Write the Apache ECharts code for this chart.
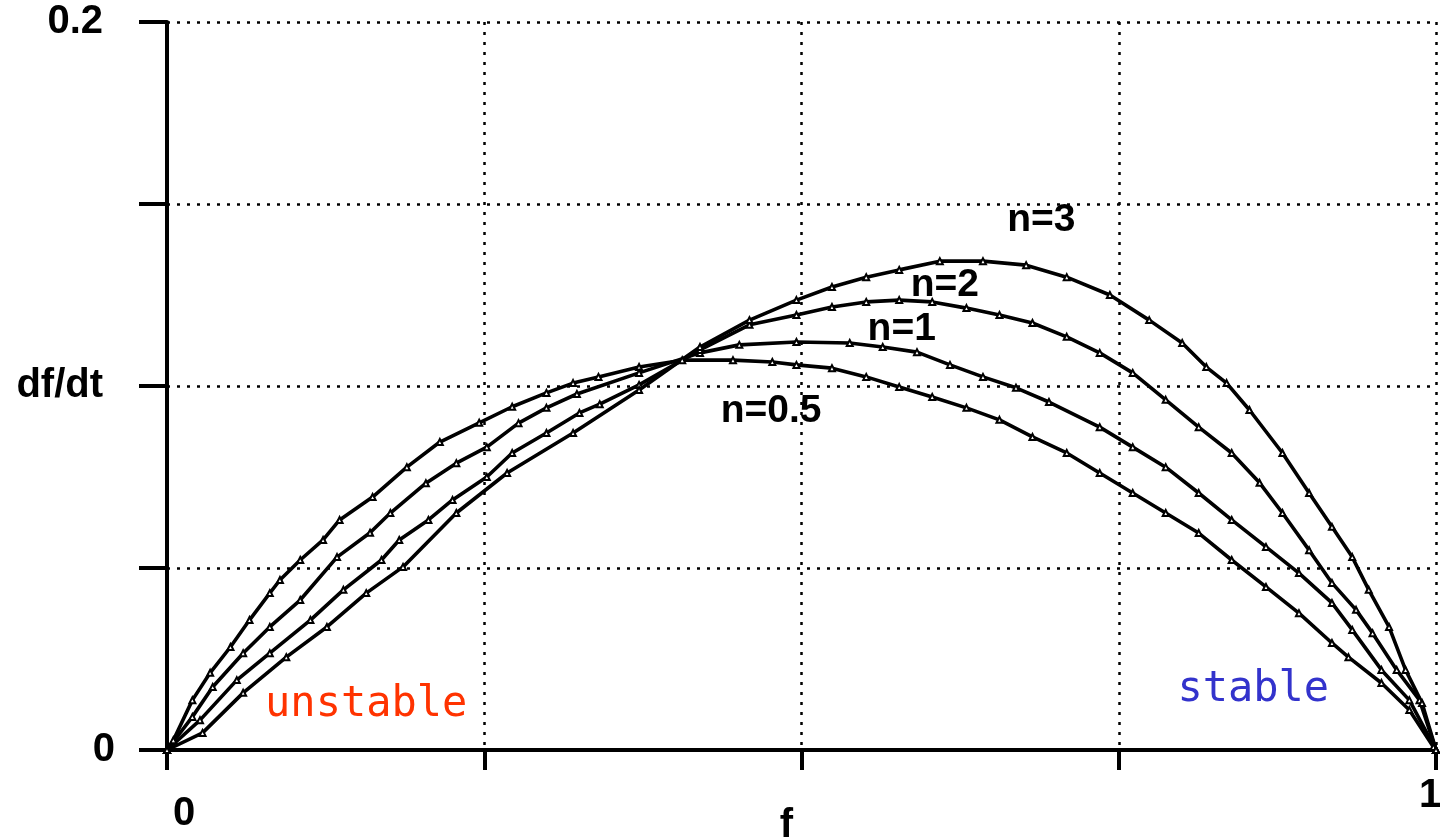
<!DOCTYPE html>
<html>
<head>
<meta charset="utf-8">
<title>df/dt vs f</title>
<script src="https://cdn.jsdelivr.net/npm/echarts@6/dist/echarts.min.js"></script>
<style>
  html, body { margin: 0; padding: 0; background: #ffffff; }
  #chart { width: 1440px; height: 840px; }
</style>
</head>
<body>
<div id="chart"></div>
<script>
// Growth rate df/dt against frequency f for several exponents n, as [f, df/dt]
const curveN05 = [
  [0, 0], [0.005, 0.0027], [0.020, 0.0137], [0.034, 0.0212], [0.050, 0.0283],
  [0.065, 0.0357], [0.081, 0.0431], [0.089, 0.0467], [0.105, 0.0522], [0.123, 0.0577],
  [0.136, 0.0632], [0.162, 0.0695], [0.189, 0.0777], [0.215, 0.0846], [0.246, 0.0899],
  [0.272, 0.0943], [0.299, 0.0981], [0.320, 0.1008], [0.340, 0.1025], [0.372, 0.1052],
  [0.406, 0.1071], [0.446, 0.1071], [0.477, 0.1066], [0.496, 0.1058], [0.524, 0.1049],
  [0.551, 0.1025], [0.577, 0.0997], [0.603, 0.0970], [0.630, 0.0940], [0.656, 0.0907],
  [0.682, 0.0860], [0.709, 0.0816], [0.735, 0.0761], [0.761, 0.0706], [0.787, 0.0651],
  [0.813, 0.0596], [0.839, 0.0522], [0.866, 0.0448], [0.892, 0.0376], [0.918, 0.0294],
  [0.931, 0.0255], [0.957, 0.0184], [0.979, 0.0110], [0.998, 0.0008], [1, 0]
];
const curveN1 = [
  [0, 0], [0.020, 0.0091], [0.036, 0.0173], [0.060, 0.0266], [0.081, 0.0338],
  [0.105, 0.0412], [0.134, 0.0530], [0.160, 0.0597], [0.176, 0.0651], [0.204, 0.0733],
  [0.228, 0.0788], [0.252, 0.0832], [0.277, 0.0898], [0.299, 0.0940], [0.323, 0.0978],
  [0.372, 0.1036], [0.420, 0.1091], [0.451, 0.1113], [0.496, 0.1121], [0.538, 0.1118],
  [0.564, 0.1107], [0.591, 0.1093], [0.617, 0.1058], [0.643, 0.1025], [0.669, 0.0995],
  [0.695, 0.0956], [0.735, 0.0887], [0.761, 0.0832], [0.787, 0.0777], [0.813, 0.0706],
  [0.839, 0.0632], [0.866, 0.0558], [0.892, 0.0486], [0.918, 0.0404], [0.934, 0.0330],
  [0.957, 0.0220], [0.979, 0.0137], [1, 0]
];
const curveN2 = [
  [0, 0], [0.026, 0.0082], [0.055, 0.0192], [0.081, 0.0266], [0.113, 0.0357],
  [0.139, 0.0440], [0.169, 0.0522], [0.183, 0.0577], [0.206, 0.0632], [0.225, 0.0687],
  [0.252, 0.0750], [0.272, 0.0816], [0.299, 0.0871], [0.325, 0.0926], [0.341, 0.0950],
  [0.372, 0.1003], [0.420, 0.1099], [0.459, 0.1168], [0.496, 0.1195], [0.524, 0.1217],
  [0.551, 0.1231], [0.577, 0.1236], [0.603, 0.1231], [0.630, 0.1214], [0.656, 0.1195],
  [0.682, 0.1173], [0.709, 0.1135], [0.735, 0.1091], [0.761, 0.1036], [0.787, 0.0962],
  [0.813, 0.0887], [0.839, 0.0816], [0.861, 0.0734], [0.879, 0.0651], [0.900, 0.0549],
  [0.918, 0.0459], [0.937, 0.0385], [0.950, 0.0321], [0.969, 0.0220], [0.987, 0.0137],
  [1, 0]
];
const curveN3 = [
  [0, 0], [0.028, 0.0047], [0.060, 0.0157], [0.094, 0.0255], [0.126, 0.0338],
  [0.157, 0.0431], [0.186, 0.0503], [0.228, 0.0651], [0.268, 0.0761], [0.320, 0.0871],
  [0.372, 0.0989], [0.420, 0.1107], [0.459, 0.1181], [0.496, 0.1236], [0.524, 0.1272],
  [0.551, 0.1299], [0.577, 0.1319], [0.609, 0.1343], [0.643, 0.1343], [0.677, 0.1332],
  [0.709, 0.1299], [0.743, 0.1250], [0.774, 0.1181], [0.800, 0.1118], [0.819, 0.1052],
  [0.835, 0.1008], [0.853, 0.0934], [0.879, 0.0816], [0.900, 0.0706], [0.918, 0.0613],
  [0.934, 0.0530], [0.947, 0.0440], [0.963, 0.0338], [0.976, 0.0220], [0.989, 0.0129],
  [1, 0]
];

// Curve names in draw order
const curveNames = ['n=0.5', 'n=1', 'n=2', 'n=3'];
const curveData = [curveN05, curveN1, curveN2, curveN3];

// Tick label texts
const yTickLabels = { '0': '0', '0.1': 'df/dt', '0.2': '0.2' };
const xTickLabels = { '0': '0', '0.5': 'f', '1': '1' };

// Where each curve name and the region captions sit, in data coordinates
const curveLabelAt = {
  'n=0.5': [0.476, 0.0931],
  'n=1': [0.579, 0.1157],
  'n=2': [0.613, 0.1277],
  'n=3': [0.689, 0.1456]
};
const regionCaptions = [
  { text: 'unstable', at: [0.157, 0.0124], color: '#ff3300' },
  { text: 'stable', at: [0.856, 0.0165], color: '#3333cc' }
];

const BOLD = '"Liberation Sans", Arial, Helvetica, sans-serif';
const MONO = '"DejaVu Sans Mono", "Liberation Mono", monospace';

function keyOf(v) {
  return String(Math.round(v * 1000) / 1000);
}

const series = curveNames.map(function (name, i) {
  const labelPos = curveLabelAt[name];
  const marks = [{
    coord: labelPos,
    label: {
      show: true, position: 'inside', formatter: name,
      fontFamily: BOLD, fontWeight: 'bold', fontSize: 39, color: '#000'
    }
  }];
  if (i === 0) {
    regionCaptions.forEach(function (c) {
      marks.push({
        coord: c.at,
        label: {
          show: true, position: 'inside', formatter: c.text,
          fontFamily: MONO, fontSize: 42, color: c.color
        }
      });
    });
  }
  return {
    name: name,
    type: 'line',
    data: curveData[i],
    showSymbol: true,
    symbol: 'emptyTriangle',
    symbolSize: 6,
    itemStyle: { color: '#000', borderColor: '#000', borderWidth: 1.5 },
    lineStyle: { color: '#000', width: 3.6 },
    z: 3,
    markPoint: {
      symbol: 'circle',
      symbolSize: 0,
      silent: true,
      data: marks
    }
  };
});

const tickFont = { fontFamily: BOLD, fontWeight: 'bold', fontSize: 40, color: '#000' };

const chart = echarts.init(document.getElementById('chart'), null, { renderer: 'canvas' });
chart.setOption({
  animation: false,
  backgroundColor: '#ffffff',
  grid: {
    left: 167, right: 4, top: 22, bottom: 90,
    containLabel: false,
    outerBoundsMode: 'none'
  },
  xAxis: {
    type: 'value',
    min: 0, max: 1, interval: 0.25,
    axisLine: { show: true, onZero: false, lineStyle: { color: '#000', width: 4 } },
    axisTick: { show: true, length: 20, lineStyle: { color: '#000', width: 4 } },
    splitLine: { show: true, lineStyle: { color: '#000', width: 2.5, type: [3, 7] } },
    axisLabel: {
      show: true,
      margin: 26,
      showMinLabel: true, showMaxLabel: true,
      formatter: function (v) {
        const k = keyOf(v);
        const t = xTickLabels[k];
        if (!t) return '';
        if (k === '0') return '{z|' + t + '}';
        if (k === '0.5') return '{f|' + t + '}';
        return '{o|' + t + '}';
      },
      rich: {
        z: Object.assign({ padding: [18, 0, 0, 34] }, tickFont),
        f: Object.assign({ padding: [30, 30, 0, 0] }, tickFont),
        o: Object.assign({ padding: [0, 12, 0, 0] }, tickFont)
      }
    }
  },
  yAxis: {
    type: 'value',
    min: 0, max: 0.2, interval: 0.05,
    axisLine: { show: true, onZero: false, lineStyle: { color: '#000', width: 4 } },
    axisTick: { show: true, length: 28, lineStyle: { color: '#000', width: 4 } },
    splitLine: { show: true, lineStyle: { color: '#000', width: 2.5, type: [3, 7] } },
    axisLabel: {
      show: true,
      margin: 52,
      showMinLabel: true, showMaxLabel: true,
      formatter: function (v) {
        const k = keyOf(v);
        const t = yTickLabels[k];
        if (!t) return '';
        return (k === '0' ? '{z|' : '{w|') + t + '}';
      },
      rich: {
        z: Object.assign({ padding: [0, 0, 0, 0] }, tickFont),
        w: Object.assign({ padding: [0, 12, 0, 0] }, tickFont)
      }
    }
  },
  series: series
});
</script>
</body>
</html>
